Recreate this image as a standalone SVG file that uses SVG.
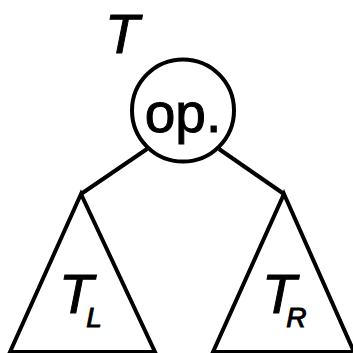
<svg xmlns="http://www.w3.org/2000/svg" width="353" height="353" viewBox="0 0 353 353">
<style>
.s{fill:none;stroke:#000;stroke-width:4;stroke-linejoin:miter}
.t{font-family:"Liberation Sans",Arial,sans-serif;fill:#000;stroke:#000;stroke-width:1}
.i{font-style:italic}
</style>
<rect width="353" height="353" fill="#fff"/>
<g id="edges">
<line class="s" x1="147" y1="149" x2="81" y2="194"/>
<line class="s" x1="219" y1="149" x2="284" y2="194"/>
</g>
<g id="root">
<circle class="s" cx="183" cy="110.5" r="51"/>
<text class="t" x="183" y="132" font-size="55" text-anchor="middle">op.</text>
</g>
<g id="label-T">
<text class="t i" x="105" y="53" font-size="56">T</text>
</g>
<g id="left">
<polygon class="s" points="81,194 155,352 10,352"/>
<text class="t i" x="59" y="313" font-size="56">T<tspan font-size="28" dx="-7" dy="14">L</tspan></text>
</g>
<g id="right">
<polygon class="s" points="284,194 354,352 213,352"/>
<text class="t i" x="262" y="313" font-size="56">T<tspan font-size="28" dx="-10" dy="14">R</tspan></text>
</g>
</svg>
